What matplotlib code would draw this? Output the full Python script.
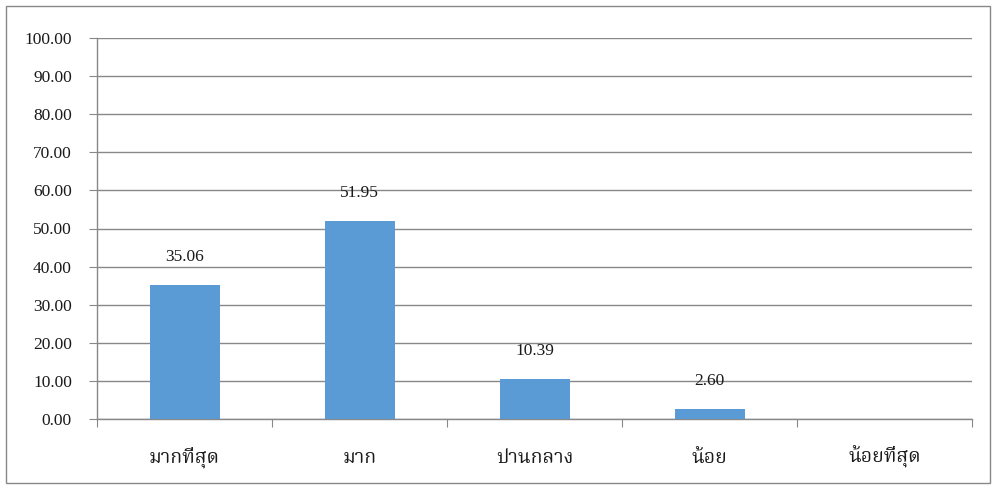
import numpy as np
import matplotlib.pyplot as plt
from matplotlib.patches import Rectangle

plt.rcParams['font.family'] = ['Liberation Serif', 'Noto Serif Thai', 'Noto Sans Thai',
                               'Tlwg Typo', 'Garuda', 'Loma', 'DejaVu Sans']

# --- Data ---
categories = ['มากที่สุด', 'มาก', 'ปานกลาง', 'น้อย', 'น้อยที่สุด']
values = [35.06, 51.95, 10.39, 2.60, 0.0]
labels_shown = ['35.06', '51.95', '10.39', '2.60', '']

GRID = '#888888'
TXT = '#1a1a1a'

fig = plt.figure(figsize=(9.95, 4.87), dpi=100)
ax = fig.add_axes([97 / 995, 1 - 419 / 487, (972 - 97) / 995, (419 - 38) / 487])

x = np.arange(len(categories))
ax.bar(x, values, width=0.4, color='#5B9BD5', zorder=3)

for xi, v, lab in zip(x, values, labels_shown):
    if lab:
        ax.annotate(lab, (xi, v), xytext=(0, 20.5), textcoords='offset points',
                    ha='center', va='center', fontsize=12.5, color=TXT, zorder=4)

ax.set_xlim(-0.5, len(categories) - 0.5)
ax.set_ylim(0, 100)
ax.set_yticks(np.arange(0, 101, 10))
ax.set_yticklabels([f'{t:.2f}' for t in np.arange(0, 101, 10)], fontsize=12.5, color=TXT)
ax.yaxis.grid(True, color=GRID, lw=1, zorder=0)

# category ticks at boundaries, labels centered
ax.set_xticks(np.arange(-0.5, len(categories)), minor=False)
ax.set_xticklabels([])
ax.set_xticks(x, minor=True)
ax.set_xticklabels(categories, minor=True, fontsize=14, color=TXT)
for lbl in ax.get_xticklabels(minor=True):
    lbl.set_va('baseline')
ax.tick_params(axis='x', which='minor', length=0, pad=31.5)
ax.tick_params(axis='x', which='major', length=6, color=GRID, direction='out')
ax.tick_params(axis='y', length=6, color=GRID, direction='out', pad=12)

for s in ['top', 'right']:
    ax.spines[s].set_visible(False)
for s in ['left', 'bottom']:
    ax.spines[s].set_color(GRID)
    ax.spines[s].set_linewidth(1)

# chart border
fig.patches.append(Rectangle((6 / 995, 4 / 487), 984 / 995, 477 / 487, transform=fig.transFigure,
                             fill=False, edgecolor='#888888', lw=1))

fig.savefig('out.png', dpi=100)
